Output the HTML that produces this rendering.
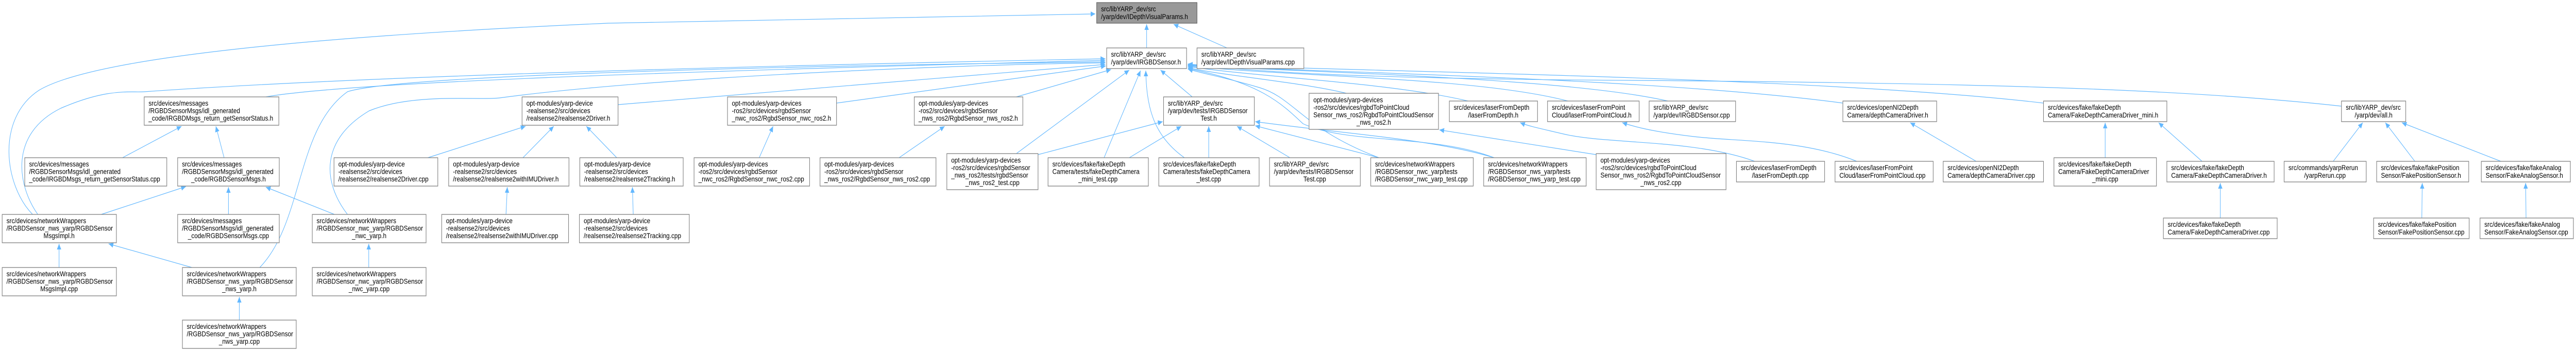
<!DOCTYPE html>
<html><head><meta charset="utf-8">
<style>
html,body{margin:0;padding:0;background:#fff;width:100%;height:100%;overflow:hidden;}
svg{display:block;position:absolute;left:0;top:0;width:100vw;height:100vh;}
text{font-family:"Liberation Sans",Arial,sans-serif;font-size:14px;fill:#000;}
.b{fill:#fff;stroke:#808080;stroke-width:1.3;}
.g{fill:#999;stroke:#666;stroke-width:1.3;}
.e{fill:none;stroke:#63b8ff;stroke-width:1.2;}
.m{text-anchor:middle;}
</style></head><body>
<svg viewBox="0 0 5931 681" preserveAspectRatio="none" xmlns="http://www.w3.org/2000/svg">
<defs>
<marker id="a" markerWidth="12" markerHeight="10" refX="11" refY="5" orient="auto" markerUnits="userSpaceOnUse">
<path d="M0,0 L11,5 L0,10 z" fill="#63b8ff"/>
</marker>
</defs>
<g marker-end="url(#a)">
<path class="e" d="M2640,93 L2640,47"/>
<path class="e" d="M2825,93 L2702,47"/>
<path class="e" d="M75,416 C10,360 -10,230 90,175 C250,95 1000,60 1400,45 L2522,27"/>
<path class="e" d="M87,416 C40,360 20,260 140,210 C250,170 300,180 332,178 C800,150 1600,130 2545,114"/>
<path class="e" d="M612,188 C800,160 1500,140 2545,117"/>
<path class="e" d="M598,519 C700,430 680,250 800,178 C900,150 1600,130 2545,120"/>
<path class="e" d="M800,416 C740,350 740,270 850,215 C950,180 1100,195 1150,190 C1500,150 2200,125 2545,122"/>
<path class="e" d="M1423,203 L2545,125"/>
<path class="e" d="M1926,200 L2546,128"/>
<path class="e" d="M2340,188 L2558,135"/>
<path class="e" d="M2340,298 L2600,136"/>
<path class="e" d="M2542,306 L2626,137"/>
<path class="e" d="M2727,306 C2650,260 2640,200 2638,137"/>
<path class="e" d="M2745,188 L2672,136"/>
<path class="e" d="M2390,300 L2677,236"/>
<path class="e" d="M2600,306 L2720,245"/>
<path class="e" d="M2783,306 L2783,245"/>
<path class="e" d="M2970,306 L2848,245"/>
<path class="e" d="M3175,306 L2890,244"/>
<path class="e" d="M3440,306 C3300,270 3100,260 2890,236"/>
<path class="e" d="M3175,306 C3000,250 2980,190 2900,170 C2820,150 2780,145 2735,134"/>
<path class="e" d="M3440,306 C3300,260 3100,280 3000,240 C2950,200 2900,160 2735,133"/>
<path class="e" d="M3100,181 C3000,160 2800,145 2735,131"/>
<path class="e" d="M3380,196 C3200,160 2900,150 2735,129"/>
<path class="e" d="M3610,196 C3400,150 3000,150 2735,128"/>
<path class="e" d="M3840,196 C3600,150 3000,140 2735,127"/>
<path class="e" d="M4243,200 C3800,150 3000,140 2735,126"/>
<path class="e" d="M4705,200 C4200,150 3200,140 2735,125"/>
<path class="e" d="M5391,206 C5000,170 4500,160 3600,155 C3100,150 2900,140 2735,124"/>
<path class="e" d="M3675,300 L3314,252"/>
<path class="e" d="M4040,313 C3900,270 3700,280 3600,260 C3550,250 3520,245 3500,238"/>
<path class="e" d="M4275,313 C4150,270 4000,275 3900,265 C3800,255 3760,245 3735,238"/>
<path class="e" d="M4550,313 L4398,238"/>
<path class="e" d="M4847,306 L4847,238"/>
<path class="e" d="M5070,313 L4970,238"/>
<path class="e" d="M5112,423 L5112,355"/>
<path class="e" d="M5372,313 L5440,238"/>
<path class="e" d="M5560,313 L5492,238"/>
<path class="e" d="M5758,313 L5530,238"/>
<path class="e" d="M5576,423 L5577,355"/>
<path class="e" d="M5816,423 L5815,355"/>
<path class="e" d="M282,306 L418,245"/>
<path class="e" d="M516,306 L497,245"/>
<path class="e" d="M233,416 L428,362"/>
<path class="e" d="M526,416 L526,363"/>
<path class="e" d="M770,416 L612,363"/>
<path class="e" d="M136,519 L136,473"/>
<path class="e" d="M442,519 L250,473"/>
<path class="e" d="M551,621 L551,576"/>
<path class="e" d="M849,519 L849,473"/>
<path class="e" d="M985,306 L1210,245"/>
<path class="e" d="M1204,306 L1275,245"/>
<path class="e" d="M1420,306 L1350,245"/>
<path class="e" d="M1165,416 L1168,363"/>
<path class="e" d="M1458,416 L1456,363"/>
<path class="e" d="M1748,306 L1780,245"/>
<path class="e" d="M2070,306 L2175,245"/>
</g>

<rect class="g" x="2525" y="5" width="231" height="40"/>
<text x="2535" y="22">src/libYARP_dev/src</text><text x="2535" y="37">/yarp/dev/IDepthVisualParams.h</text>

<rect class="b" x="2548" y="93" width="184" height="40"/>
<text x="2558" y="110">src/libYARP_dev/src</text><text x="2558" y="125">/yarp/dev/IRGBDSensor.h</text>

<rect class="b" x="2756" y="93" width="246" height="40"/>
<text x="2766" y="110">src/libYARP_dev/src</text><text x="2766" y="125">/yarp/dev/IDepthVisualParams.cpp</text>

<rect class="b" x="332" y="188" width="310" height="55"/>
<text x="342" y="205">src/devices/messages</text><text x="342" y="219.5">/RGBDSensorMsgs/idl_generated</text><text x="342" y="234">_code/IRGBDMsgs_return_getSensorStatus.h</text>

<rect class="b" x="1202" y="188" width="221" height="55"/>
<text x="1212" y="205">opt-modules/yarp-device</text><text x="1212" y="219.5">-realsense2/src/devices</text><text x="1212" y="234">/realsense2/realsense2Driver.h</text>

<rect class="b" x="1675" y="188" width="251" height="55"/>
<text x="1685" y="205">opt-modules/yarp-devices</text><text x="1685" y="219.5">-ros2/src/devices/rgbdSensor</text><text x="1685" y="234">_nwc_ros2/RgbdSensor_nwc_ros2.h</text>

<rect class="b" x="2105" y="188" width="250" height="55"/>
<text x="2115" y="205">opt-modules/yarp-devices</text><text x="2115" y="219.5">-ros2/src/devices/rgbdSensor</text><text x="2115" y="234">_nws_ros2/RgbdSensor_nws_ros2.h</text>

<rect class="b" x="2679" y="188" width="209" height="55"/>
<text x="2689" y="205">src/libYARP_dev/src</text><text x="2689" y="219.5">/yarp/dev/tests/IRGBDSensor</text><text class="m" x="2783" y="234">Test.h</text>

<rect class="b" x="3014" y="181" width="298" height="70"/>
<text x="3024" y="198.5">opt-modules/yarp-devices</text><text x="3024" y="213">-ros2/src/devices/rgbdToPointCloud</text><text x="3024" y="227.5">Sensor_nws_ros2/RgbdToPointCloudSensor</text><text class="m" x="3163" y="242">_nws_ros2.h</text>

<rect class="b" x="3337" y="196" width="203" height="40"/>
<text x="3347" y="213">src/devices/laserFromDepth</text><text class="m" x="3438" y="228">/laserFromDepth.h</text>

<rect class="b" x="3563" y="196" width="211" height="40"/>
<text x="3573" y="213">src/devices/laserFromPoint</text><text x="3573" y="228">Cloud/laserFromPointCloud.h</text>

<rect class="b" x="3797" y="196" width="199" height="40"/>
<text x="3807" y="213">src/libYARP_dev/src</text><text x="3807" y="228">/yarp/dev/IRGBDSensor.cpp</text>

<rect class="b" x="4243" y="196" width="216" height="40"/>
<text x="4253" y="213">src/devices/openNI2Depth</text><text x="4253" y="228">Camera/depthCameraDriver.h</text>

<rect class="b" x="4705" y="196" width="284" height="40"/>
<text x="4715" y="213">src/devices/fake/fakeDepth</text><text x="4715" y="228">Camera/FakeDepthCameraDriver_mini.h</text>

<rect class="b" x="5391" y="196" width="148" height="40"/>
<text x="5401" y="213">src/libYARP_dev/src</text><text class="m" x="5465" y="228">/yarp/dev/all.h</text>

<rect class="b" x="57" y="306" width="327" height="55"/>
<text x="67" y="323">src/devices/messages</text><text x="67" y="337.5">/RGBDSensorMsgs/idl_generated</text><text x="67" y="352">_code/IRGBDMsgs_return_getSensorStatus.cpp</text>

<rect class="b" x="409" y="306" width="234" height="55"/>
<text x="419" y="323">src/devices/messages</text><text x="419" y="337.5">/RGBDSensorMsgs/idl_generated</text><text class="m" x="526" y="352">_code/RGBDSensorMsgs.h</text>

<rect class="b" x="769" y="306" width="239" height="55"/>
<text x="779" y="323">opt-modules/yarp-device</text><text x="779" y="337.5">-realsense2/src/devices</text><text x="779" y="352">/realsense2/realsense2Driver.cpp</text>

<rect class="b" x="1033" y="306" width="277" height="55"/>
<text x="1043" y="323">opt-modules/yarp-device</text><text x="1043" y="337.5">-realsense2/src/devices</text><text x="1043" y="352">/realsense2/realsense2withIMUDriver.h</text>

<rect class="b" x="1335" y="306" width="238" height="55"/>
<text x="1345" y="323">opt-modules/yarp-device</text><text x="1345" y="337.5">-realsense2/src/devices</text><text x="1345" y="352">/realsense2/realsense2Tracking.h</text>

<rect class="b" x="1598" y="306" width="266" height="55"/>
<text x="1608" y="323">opt-modules/yarp-devices</text><text x="1608" y="337.5">-ros2/src/devices/rgbdSensor</text><text x="1608" y="352">_nwc_ros2/RgbdSensor_nwc_ros2.cpp</text>

<rect class="b" x="1888" y="306" width="267" height="55"/>
<text x="1898" y="323">opt-modules/yarp-devices</text><text x="1898" y="337.5">-ros2/src/devices/rgbdSensor</text><text x="1898" y="352">_nws_ros2/RgbdSensor_nws_ros2.cpp</text>

<rect class="b" x="2180" y="298" width="210" height="70"/>
<text x="2190" y="315.5">opt-modules/yarp-devices</text><text x="2190" y="330">-ros2/src/devices/rgbdSensor</text><text x="2190" y="344.5">_nws_ros2/tests/rgbdSensor</text><text class="m" x="2285" y="359">_nws_ros2_test.cpp</text>

<rect class="b" x="2413" y="306" width="231" height="55"/>
<text x="2423" y="323">src/devices/fake/fakeDepth</text><text x="2423" y="337.5">Camera/tests/fakeDepthCamera</text><text class="m" x="2528" y="352">_mini_test.cpp</text>

<rect class="b" x="2668" y="306" width="231" height="55"/>
<text x="2678" y="323">src/devices/fake/fakeDepth</text><text x="2678" y="337.5">Camera/tests/fakeDepthCamera</text><text class="m" x="2783" y="352">_test.cpp</text>

<rect class="b" x="2923" y="306" width="209" height="55"/>
<text x="2933" y="323">src/libYARP_dev/src</text><text x="2933" y="337.5">/yarp/dev/tests/IRGBDSensor</text><text class="m" x="3027" y="352">Test.cpp</text>

<rect class="b" x="3156" y="306" width="236" height="55"/>
<text x="3166" y="323">src/devices/networkWrappers</text><text x="3166" y="337.5">/RGBDSensor_nwc_yarp/tests</text><text x="3166" y="352">/RGBDSensor_nwc_yarp_test.cpp</text>

<rect class="b" x="3416" y="306" width="236" height="55"/>
<text x="3426" y="323">src/devices/networkWrappers</text><text x="3426" y="337.5">/RGBDSensor_nws_yarp/tests</text><text x="3426" y="352">/RGBDSensor_nws_yarp_test.cpp</text>

<rect class="b" x="3675" y="298" width="299" height="70"/>
<text x="3685" y="315.5">opt-modules/yarp-devices</text><text x="3685" y="330">-ros2/src/devices/rgbdToPointCloud</text><text x="3685" y="344.5">Sensor_nws_ros2/RgbdToPointCloudSensor</text><text class="m" x="3824" y="359">_nws_ros2.cpp</text>

<rect class="b" x="3998" y="313" width="203" height="40"/>
<text x="4008" y="330">src/devices/laserFromDepth</text><text class="m" x="4099" y="345">/laserFromDepth.cpp</text>

<rect class="b" x="4225" y="313" width="226" height="40"/>
<text x="4235" y="330">src/devices/laserFromPoint</text><text x="4235" y="345">Cloud/laserFromPointCloud.cpp</text>

<rect class="b" x="4474" y="313" width="231" height="40"/>
<text x="4484" y="330">src/devices/openNI2Depth</text><text x="4484" y="345">Camera/depthCameraDriver.cpp</text>

<rect class="b" x="4729" y="306" width="236" height="55"/>
<text x="4739" y="323">src/devices/fake/fakeDepth</text><text x="4739" y="337.5">Camera/FakeDepthCameraDriver</text><text class="m" x="4847" y="352">_mini.cpp</text>

<rect class="b" x="4989" y="313" width="247" height="40"/>
<text x="4999" y="330">src/devices/fake/fakeDepth</text><text x="4999" y="345">Camera/FakeDepthCameraDriver.h</text>

<rect class="b" x="5259" y="313" width="189" height="40"/>
<text x="5269" y="330">src/commands/yarpRerun</text><text class="m" x="5353" y="345">/yarpRerun.cpp</text>

<rect class="b" x="5472" y="313" width="212" height="40"/>
<text x="5482" y="330">src/devices/fake/fakePosition</text><text x="5482" y="345">Sensor/FakePositionSensor.h</text>

<rect class="b" x="5713" y="313" width="205" height="40"/>
<text x="5723" y="330">src/devices/fake/fakeAnalog</text><text x="5723" y="345">Sensor/FakeAnalogSensor.h</text>

<rect class="b" x="5" y="416" width="263" height="55"/>
<text x="15" y="433">src/devices/networkWrappers</text><text x="15" y="447.5">/RGBDSensor_nws_yarp/RGBDSensor</text><text class="m" x="136" y="462">MsgsImpl.h</text>

<rect class="b" x="409" y="416" width="234" height="55"/>
<text x="419" y="433">src/devices/messages</text><text x="419" y="447.5">/RGBDSensorMsgs/idl_generated</text><text class="m" x="526" y="462">_code/RGBDSensorMsgs.cpp</text>

<rect class="b" x="719" y="416" width="262" height="55"/>
<text x="729" y="433">src/devices/networkWrappers</text><text x="729" y="447.5">/RGBDSensor_nwc_yarp/RGBDSensor</text><text class="m" x="850" y="462">_nwc_yarp.h</text>

<rect class="b" x="1017" y="416" width="292" height="55"/>
<text x="1027" y="433">opt-modules/yarp-device</text><text x="1027" y="447.5">-realsense2/src/devices</text><text x="1027" y="462">/realsense2/realsense2withIMUDriver.cpp</text>

<rect class="b" x="1334" y="416" width="253" height="55"/>
<text x="1344" y="433">opt-modules/yarp-device</text><text x="1344" y="447.5">-realsense2/src/devices</text><text x="1344" y="462">/realsense2/realsense2Tracking.cpp</text>

<rect class="b" x="4981" y="423" width="262" height="40"/>
<text x="4991" y="440">src/devices/fake/fakeDepth</text><text x="4991" y="455">Camera/FakeDepthCameraDriver.cpp</text>

<rect class="b" x="5465" y="423" width="220" height="40"/>
<text x="5475" y="440">src/devices/fake/fakePosition</text><text x="5475" y="455">Sensor/FakePositionSensor.cpp</text>

<rect class="b" x="5710" y="423" width="215" height="40"/>
<text x="5720" y="440">src/devices/fake/fakeAnalog</text><text x="5720" y="455">Sensor/FakeAnalogSensor.cpp</text>

<rect class="b" x="5" y="519" width="263" height="55"/>
<text x="15" y="536">src/devices/networkWrappers</text><text x="15" y="550.5">/RGBDSensor_nws_yarp/RGBDSensor</text><text class="m" x="136" y="565">MsgsImpl.cpp</text>

<rect class="b" x="420" y="519" width="262" height="55"/>
<text x="430" y="536">src/devices/networkWrappers</text><text x="430" y="550.5">/RGBDSensor_nws_yarp/RGBDSensor</text><text class="m" x="551" y="565">_nws_yarp.h</text>

<rect class="b" x="719" y="519" width="262" height="55"/>
<text x="729" y="536">src/devices/networkWrappers</text><text x="729" y="550.5">/RGBDSensor_nwc_yarp/RGBDSensor</text><text class="m" x="850" y="565">_nwc_yarp.cpp</text>

<rect class="b" x="420" y="621" width="262" height="55"/>
<text x="430" y="638">src/devices/networkWrappers</text><text x="430" y="652.5">/RGBDSensor_nws_yarp/RGBDSensor</text><text class="m" x="551" y="667">_nws_yarp.cpp</text>
</svg>
</body></html>
